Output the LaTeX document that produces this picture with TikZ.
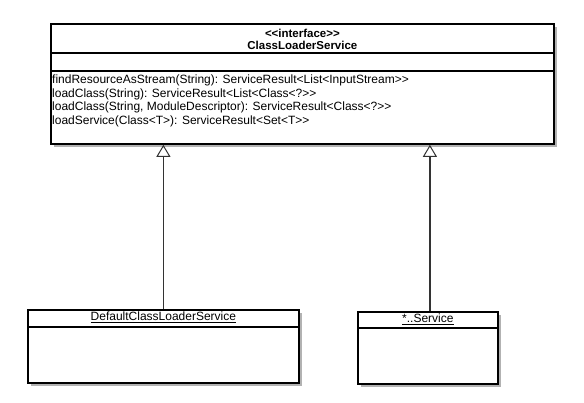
\documentclass[tikz,border=0pt]{standalone}
\usepackage{fontspec}
\setmainfont{Liberation Sans}[Ligatures=TeXOff]
\usetikzlibrary{arrows.meta,shadows}
\tikzset{
  umlbox/.style={draw, line width=1.8pt, fill=white, anchor=north west, inner sep=0pt,
    drop shadow={shadow xshift=3pt, shadow yshift=-3pt, fill=black!30, opacity=1}},
  umlline/.style={line width=1.8pt},
  realizes/.style={draw=black!80, line width=1.4pt,
    -{Triangle[open, length=12pt, width=14pt, line width=1pt]}},
}
\begin{document}
\begin{tikzpicture}[x=1pt, y=-1pt, font=\fontsize{12}{13.5}\selectfont]
\useasboundingbox (0,0) rectangle (584,403);
% interface
\node[umlbox, minimum width=503pt, minimum height=120pt] (iface) at (50,23) {};
\draw[umlline] (iface.north west) ++(0,30) coordinate (ia) -- (ia -| iface.east);
\draw[umlline] (iface.north west) ++(0,48) coordinate (ib) -- (ib -| iface.east);
\node[anchor=north, align=center, font=\fontsize{11.5}{12}\selectfont\bfseries, inner sep=0pt]
  (ifacename) at ([yshift=-6pt]iface.north) {<<interface>>\\ClassLoaderService};
\node[anchor=north west, align=left, inner sep=0pt] (methods) at ([shift={(2,4)}]ib) {%
  findResourceAsStream(String): ServiceResult<List<InputStream>>\\
  loadClass(String): ServiceResult<List<Class<?>>\\
  loadClass(String, ModuleDescriptor): ServiceResult<Class<?>>\\
  loadService(Class<T>): ServiceResult<Set<T>>};
% implementations
\node[umlbox, minimum width=271pt, minimum height=73pt] (default) at (27,309) {};
\draw[umlline] (default.north west) ++(0,18) coordinate (da) -- (da -| default.east);
\node[anchor=north, inner sep=0pt] (defaultname) at ([yshift=-3pt]default.north)
  {\underline{DefaultClassLoaderService}};
\node[umlbox, minimum width=140pt, minimum height=72pt] (service) at (357,311) {};
\draw[umlline] (service.north west) ++(0,17) coordinate (sa) -- (sa -| service.east);
\node[anchor=north, inner sep=0pt] (servicename) at ([yshift=-3pt]service.north)
  {\underline{*..Service}};
% realizations
\coordinate (sv) at ([xshift=2pt]service.north);
\draw[realizes] (default.north) -- (iface.south -| default.north);
\draw[realizes] (sv) -- (iface.south -| sv);
\end{tikzpicture}
\end{document}
